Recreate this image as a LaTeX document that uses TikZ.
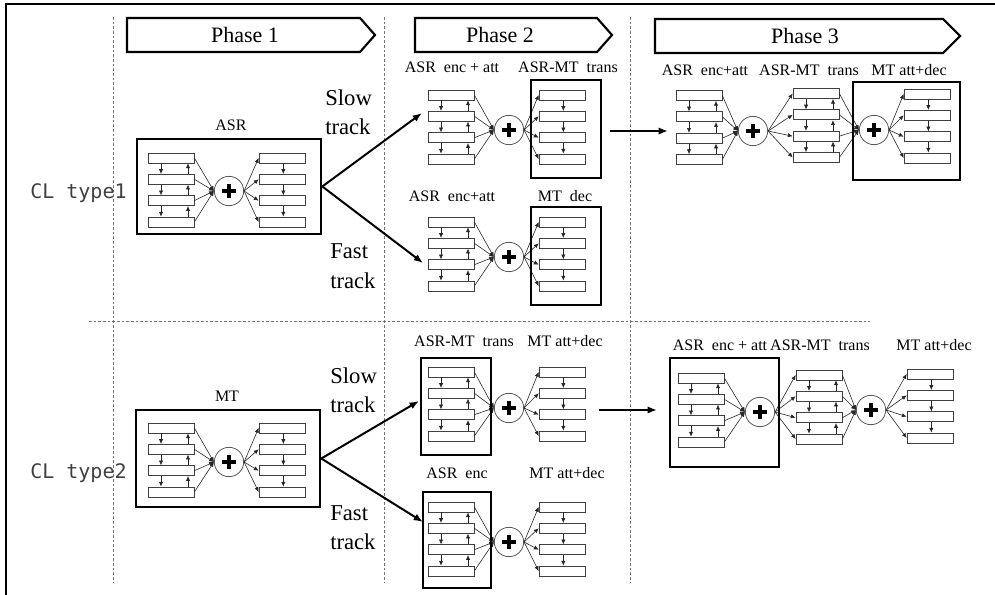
\documentclass[tikz,border=0pt]{standalone}
\usepackage{fontspec}
\setmainfont{Liberation Serif}
\newfontfamily\clfont{DejaVu Sans Mono}
\usetikzlibrary{arrows.meta,fit}
\tikzset{
  cell/.style={draw=black!75, line width=0.5pt, minimum width=34.5pt, minimum height=7.5pt, inner sep=0pt},
  tiny/.style={-{Latex[length=3.6pt,width=3.2pt]}, line width=0.45pt, draw=black!85},
  sumc/.style={circle, draw=black!65, line width=0.6pt, minimum size=22pt, inner sep=0pt},
  plusline/.style={line width=3.4pt, black},
  outer/.style={draw=black, line width=2pt, inner sep=0pt},
  bigarrow/.style={-{Latex[length=7pt,width=5.5pt]}, line width=1.5pt},
  phasebox/.style={draw=black, line width=1.6pt, line join=miter},
  sepline/.style={draw=black!55, dash pattern=on 2pt off 1.5pt, line width=0.6pt},
  lbl/.style={font=\fontsize{12}{13}\selectfont, anchor=base, inner sep=0pt},
  trk/.style={font=\fontsize{17}{18}\selectfont, anchor=base west, inner sep=0pt},
  phtxt/.style={font=\fontsize{16.5}{17}\selectfont, inner sep=0pt},
  cltxt/.style={font=\clfont\fontsize{15}{16}\selectfont, text=black!75, anchor=base west, inner sep=0pt},
}
% bidirectional stack: name, x left, y centre
\newcommand{\bistack}[3]{%
  \foreach \k/\dy in {1/-32,2/-10.7,3/10.7,4/32}{
    \node[cell] (#1-\k) at (#2+23,#3+\dy) {};
  }
  \foreach \k/\m in {1/2,2/3,3/4}{
    \draw[tiny] ([xshift=-7.5pt]#1-\k.south) -- ([xshift=-7.5pt]#1-\m.north);
    \draw[tiny] ([xshift=12.75pt]#1-\m.north) -- ([xshift=12.75pt]#1-\k.south);
  }
}
% unidirectional stack
\newcommand{\unistack}[3]{%
  \foreach \k/\dy in {1/-32,2/-10.7,3/10.7,4/32}{
    \node[cell] (#1-\k) at (#2+23,#3+\dy) {};
  }
  \foreach \k/\m in {1/2,2/3,3/4}{
    \draw[tiny] ([xshift=1pt]#1-\k.south) -- ([xshift=1pt]#1-\m.north);
  }
}
\newcommand{\plusat}[3]{%
  \node[sumc] (#1) at (#2,#3) {};
  \draw[plusline] ([xshift=-5pt]#1.center) -- ([xshift=5pt]#1.center);
  \draw[plusline] ([yshift=-5pt]#1.center) -- ([yshift=5pt]#1.center);
}
\newcommand{\fanin}[2]{\foreach \k in {1,...,4}{\draw[tiny] (#1-\k.east) -- (#2.west);}}
\newcommand{\fanout}[2]{\foreach \k in {1,...,4}{\draw[tiny] (#1.east) -- (#2-\k.west);}}
\begin{document}
\begin{tikzpicture}[x=0.75pt,y=-0.75pt]
\useasboundingbox (0,0) rectangle (995,595);
% frame
\draw[line width=2pt] (6,595) -- (6,4) -- (995,4);
% separators
\draw[sepline] (113,17) -- (113,582);
\draw[sepline] (384,17) -- (384,582);
\draw[sepline] (630,17) -- (630,582);
\draw[sepline] (89,321) -- (870,321);
% phase chevrons
\draw[phasebox, fill=white] (127,18) -- (360,18) -- (375,35) -- (360,52) -- (127,52) -- cycle;
\node[phtxt] (ph1) at (245,35) {Phase 1};
\draw[phasebox, fill=white] (415,18) -- (597,18) -- (612,35) -- (597,52) -- (415,52) -- cycle;
\node[phtxt] (ph2) at (500,35) {Phase 2};
\draw[phasebox, fill=white] (655,19) -- (943,19) -- (960,36) -- (943,53) -- (655,53) -- cycle;
\node[phtxt] (ph3) at (805,36) {Phase 3};
% CL type labels
\node[cltxt] (cl1) at (30,199) {CL type1};
\node[cltxt] (cl2) at (30,478) {CL type2};

% ===== CL type 1 =====
% Phase 1 ASR
\bistack{aL}{148}{190}
\plusat{ac}{229}{191}
\unistack{aR}{259}{190}
\fanin{aL}{ac}
\fanout{ac}{aR}
\node[outer, fit={(137,139) (321,234)}] (abox) {};
\node[lbl] (alab) at (231,131) {ASR};
% Phase 2 slow
\bistack{bL}{428}{127}
\plusat{bc}{509}{130}
\unistack{bR}{539}{127}
\fanin{bL}{bc}
\fanout{bc}{bR}
\node[outer, fit={(531,80) (601,178)}] (bbox) {};
\node[lbl] (blab1) at (452,73) {ASR\ \ enc + att};
\node[lbl] (blab2) at (568,73) {ASR-MT\ \ trans};
% Phase 2 fast
\bistack{cL}{428}{254}
\plusat{cc}{509}{257}
\unistack{cR}{539}{254}
\fanin{cL}{cc}
\fanout{cc}{cR}
\node[outer, fit={(531,207) (601,305)}] (cbox) {};
\node[lbl] (clab1) at (452,202) {ASR\ \ enc+att};
\node[lbl] (clab2) at (565,202) {MT\ \ dec};
% Phase 3
\bistack{dL}{676}{127.5}
\plusat{dc}{753}{131}
\bistack{dM}{793}{125.5}
\plusat{dd}{874}{130}
\unistack{dR}{904}{126}
\fanin{dL}{dc}
\fanout{dc}{dM}
\fanin{dM}{dd}
\fanout{dd}{dR}
\node[outer, fit={(853,82) (960,180)}] (dbox) {};
\node[lbl] (dlab1) at (705,76) {ASR\ \ enc+att};
\node[lbl] (dlab2) at (809,76) {ASR-MT\ \ trans};
\node[lbl] (dlab3) at (909,76) {MT\ att+dec};
% track arrows
\coordinate (s1) at (422,113);
\coordinate (f1) at (423,263);
\draw[bigarrow] (abox.east) -- (s1);
\draw[bigarrow] (abox.east) -- (f1);
\node[trk] (slow1) at (325,106) {Slow};
\node[trk] (strk1) at (325,135) {track};
\node[trk] (fast1) at (330,258) {Fast};
\node[trk] (ftrk1) at (330,288) {track};
\coordinate (h1a) at (610,131);
\coordinate (h1b) at (668,131);
\draw[bigarrow] (h1a) -- (h1b);

% ===== CL type 2 =====
% Phase 1 MT
\bistack{eL}{148}{460}
\plusat{ec}{229}{462}
\unistack{eR}{259}{460}
\fanin{eL}{ec}
\fanout{ec}{eR}
\node[outer, fit={(136,410) (320,507)}] (ebox) {};
\node[lbl] (elab) at (227,401) {MT};
% Phase 2 slow
\bistack{fL}{428}{404}
\plusat{fc}{509}{408}
\unistack{fR}{539}{404}
\fanin{fL}{fc}
\fanout{fc}{fR}
\node[outer, fit={(421,358) (491,455)}] (fbox) {};
\node[lbl] (flab1) at (464,346) {ASR-MT\ \ trans};
\node[lbl] (flab2) at (565,346) {MT\ att+dec};
% Phase 2 fast
\bistack{gL}{428}{539}
\plusat{gc}{509}{542}
\unistack{gR}{539}{539}
\fanin{gL}{gc}
\fanout{gc}{gR}
\node[outer, fit={(423,492) (491,588)}] (gbox) {};
\node[lbl] (glab1) at (457,478) {ASR\ \ enc};
\node[lbl] (glab2) at (567,478) {MT\ att+dec};
% Phase 3
\bistack{hL}{678}{410}
\plusat{hc}{760}{412}
\bistack{hM}{796}{407}
\plusat{hd}{871}{410}
\unistack{hR}{907}{406}
\fanin{hL}{hc}
\fanout{hc}{hM}
\fanin{hM}{hd}
\fanout{hd}{hR}
\node[outer, fit={(670,358) (779,467)}] (hbox) {};
\node[lbl] (hlab1) at (720,350) {ASR\ \ enc + att};
\node[lbl] (hlab2) at (820,350) {ASR-MT\ \ trans};
\node[lbl] (hlab3) at (934,350) {MT\ att+dec};
% track arrows
\coordinate (s2) at (419,401);
\coordinate (f2) at (423,522);
\draw[bigarrow] (ebox.east) -- (s2);
\draw[bigarrow] (ebox.east) -- (f2);
\node[trk] (slow2) at (330,383) {Slow};
\node[trk] (strk2) at (330,412) {track};
\node[trk] (fast2) at (330,520) {Fast};
\node[trk] (ftrk2) at (330,549) {track};
\coordinate (h2a) at (599,410);
\coordinate (h2b) at (657,410);
\draw[bigarrow] (h2a) -- (h2b);
\end{tikzpicture}
\end{document}
